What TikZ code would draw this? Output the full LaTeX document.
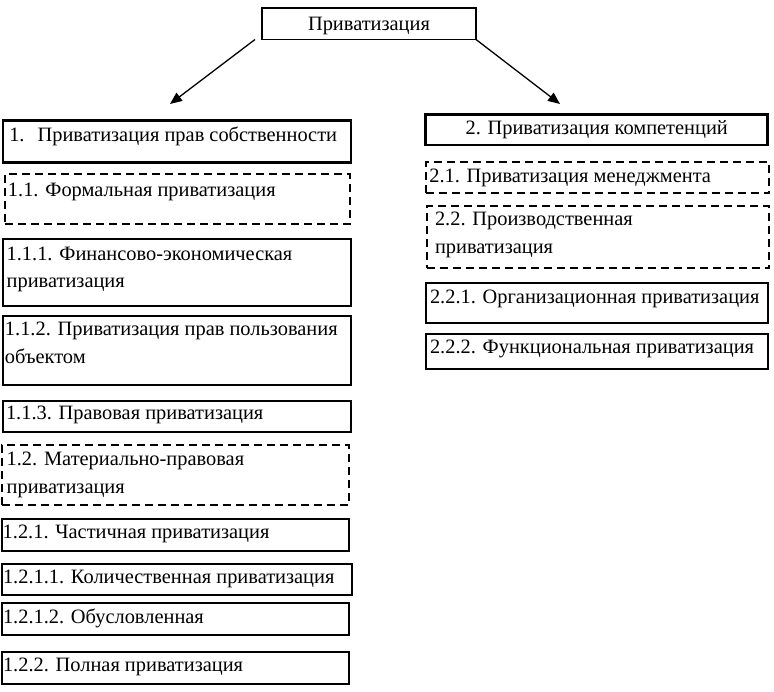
\documentclass[tikz,border=0pt]{standalone}
\usepackage{fontspec}
\setmainfont{Liberation Serif}
\usetikzlibrary{arrows.meta}

\begin{document}
\begin{tikzpicture}[x=1pt,y=-1pt]
\tikzstyle{every node}+=[inner sep=0pt, outer sep=0pt]
\tikzstyle{frame}=[draw, line width=1.7pt, anchor=north west]
\tikzstyle{mainframe}=[frame, line width=2.5pt]
\tikzstyle{dashframe}=[frame, line width=2.3pt, dash pattern=on 8pt off 5pt]
\tikzstyle{txt}=[anchor=base west, align=left, font=\fontsize{20.4}{27.5}\selectfont]
\tikzstyle{link}=[line width=1.3pt, -{Triangle[length=12pt,width=10pt]}]
\useasboundingbox (0,0) rectangle (774,692);
% root
\node [frame, minimum width=214pt, minimum height=31.5pt] (root) at (262,8) {};
\node [txt, anchor=base] (rootT) at (369,30.7) {Приватизация};
\coordinate (leftTip) at (170,104);
\coordinate (rightTip) at (560,104);
\draw [link] ([xshift=-7pt]root.south west) -- (leftTip);
\draw [link] (root.south east) -- (rightTip);
% left column (two-line texts sit on their last baseline)
\node [mainframe, minimum width=348pt, minimum height=42pt] (own) at (3,120.7) {};
\node [txt] (ownT) at (9.3,141.7) {1.\hspace{13pt}Приватизация прав собственности};
\node [dashframe, minimum width=345pt, minimum height=50pt] (formal) at (5,174.3) {};
\node [txt] (formalT) at (8,196.7) {1.1. Формальная приватизация};
\node [frame, minimum width=347.4pt, minimum height=66.7pt] (fin) at (3.3,239) {};
\node [txt] (finT) at (6.7,287.7) {1.1.1. Финансово-экономическая\\приватизация};
\node [frame, minimum width=347.4pt, minimum height=69.3pt] (use) at (3.3,315.7) {};
\node [txt] (useT) at (5,363.3) {1.1.2. Приватизация прав пользования\\объектом};
\node [frame, minimum width=347.4pt, minimum height=31.6pt] (legal) at (3.3,400.7) {};
\node [txt] (legalT) at (6,419.3) {1.1.3. Правовая приватизация};
\node [dashframe, minimum width=347pt, minimum height=60pt] (mat) at (2,445) {};
\node [txt] (matT) at (6.7,493.3) {1.2. Материально-правовая\\приватизация};
\node [frame, minimum width=347.3pt, minimum height=31.4pt] (part) at (1.7,519.3) {};
\node [txt] (partT) at (2.7,538.3) {1.2.1. Частичная приватизация};
\node [frame, minimum width=350pt, minimum height=31pt] (quant) at (1.7,564) {};
\node [txt] (quantT) at (3,583.3) {1.2.1.1. Количественная приватизация};
\node [frame, minimum width=347.3pt, minimum height=31.7pt] (cond) at (1.7,603.3) {};
\node [txt] (condT) at (3,623.3) {1.2.1.2. Обусловленная};
\node [frame, minimum width=347.3pt, minimum height=32.3pt] (full) at (1.7,651.7) {};
\node [txt] (fullT) at (3,671.7) {1.2.2. Полная приватизация};
% right column
\node [mainframe, minimum width=342pt, minimum height=30.7pt] (comp) at (425.7,114.3) {};
\node [txt, anchor=base] (compT) at (596.7,135) {2. Приватизация компетенций};
\node [dashframe, minimum width=343.6pt, minimum height=31pt] (mgmt) at (425.7,162.3) {};
\node [txt] (mgmtT) at (429.3,182.7) {2.1. Приватизация менеджмента};
\node [dashframe, minimum width=342.3pt, minimum height=62.3pt] (prod) at (426.7,206) {};
\node [txt] (prodT) at (435,253.3) {2.2. Производственная\\приватизация};
\node [frame, minimum width=342.6pt, minimum height=40pt] (org) at (425.7,283.3) {};
\node [txt] (orgT) at (430,303.3) {2.2.1. Организационная приватизация};
\node [frame, minimum width=342.6pt, minimum height=35pt] (func) at (425.7,334) {};
\node [txt] (funcT) at (430,354) {2.2.2. Функциональная приватизация};
\end{tikzpicture}
\end{document}
